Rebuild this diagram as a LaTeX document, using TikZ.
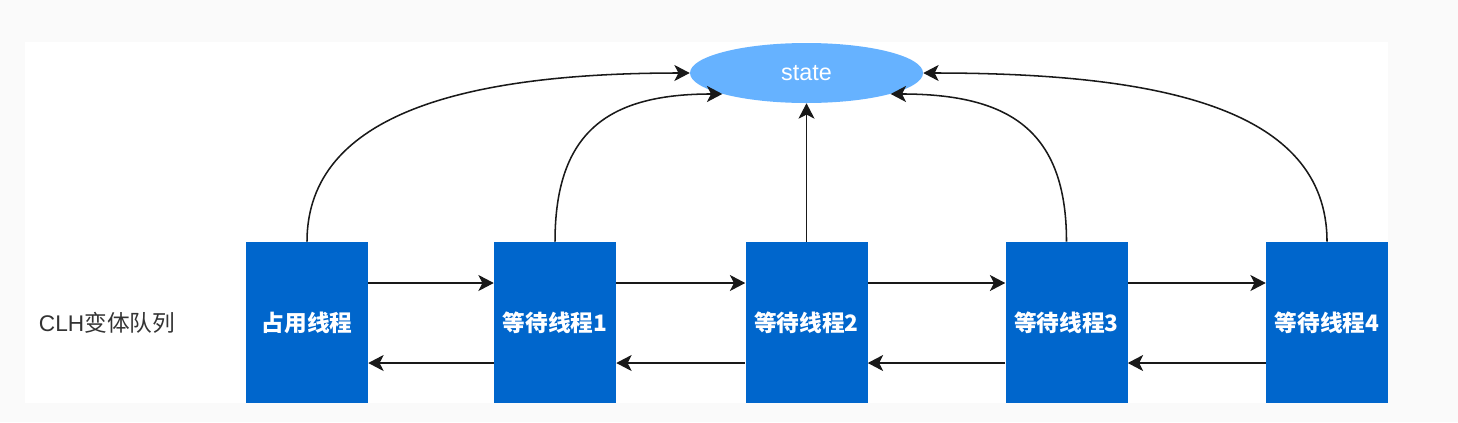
\documentclass[tikz,border=0pt]{standalone}
\usepackage{fontspec}
\setmainfont{Liberation Sans}
\newfontfamily\cjk{Noto Sans CJK SC}
\usetikzlibrary{arrows.meta,shapes.geometric}
\definecolor{bggray}{HTML}{FAFAFA}
\definecolor{boxblue}{HTML}{0066CC}
\definecolor{ellblue}{HTML}{66B2FF}
\definecolor{labgray}{HTML}{333333}
\tikzset{
  thread/.style={rectangle, fill=boxblue, minimum width=91.5pt, minimum height=120.75pt, inner sep=0pt,
    text=white, font=\cjk\bfseries\fontsize{17}{20}\selectfont},
  statenode/.style={ellipse, fill=ellblue, minimum width=174.75pt, minimum height=45pt, inner sep=0pt,
    text=white, font=\fontsize{17.5}{20}\selectfont},
  link/.style={draw=black!90, line width=1.15pt, -{Stealth[length=11.5pt,width=12pt,inset=3pt]}},
}
\begin{document}
\begin{tikzpicture}[x=0.75pt,y=-0.75pt]
\useasboundingbox (0,0) rectangle (1458,422);
\fill[bggray] (0,0) rectangle (1458,422);
\fill[white] (25,42) rectangle (1388,403);

\node[statenode] (st) at (806.5,73) {state};
\node[thread] (b1) at (307,322.5) {占用线程};
\node[thread] (b2) at (555,322.5) {等待线程1};
\node[thread] (b3) at (806.5,322.5) {等待线程2};
\node[thread] (b4) at (1066.5,322.5) {等待线程3};
\node[thread] (b5) at (1327,322.5) {等待线程4};
\node[text=labgray, font=\fontsize{17}{20}\selectfont] (lab) at (107,323) {CLH{\cjk 变体队列}};

% forward links
\draw[link] (b1.east |- 0,283) -- (b2.west |- 0,283);
\draw[link] (b2.east |- 0,283) -- (b3.west |- 0,283);
\draw[link] (b3.east |- 0,283) -- (b4.west |- 0,283);
\draw[link] (b4.east |- 0,283) -- (b5.west |- 0,283);
% backward links
\draw[link] (b2.west |- 0,363) -- (b1.east |- 0,363);
\draw[link] (b3.west |- 0,363) -- (b2.east |- 0,363);
\draw[link] (b4.west |- 0,363) -- (b3.east |- 0,363);
\draw[link] (b5.west |- 0,363) -- (b4.east |- 0,363);

% links to state
\draw[link] (b1.north) .. controls (307,112) and (470,73) .. (st.west);
\draw[link] (b2.north) .. controls (555,130) and (610,94) .. (st.194);
\draw[link] (b3.north) -- (st.south);
\draw[link] (b4.north) .. controls (1066.5,130) and (1009,94) .. (st.346);
\draw[link] (b5.north) .. controls (1327,108) and (1160,73) .. (st.east);
\end{tikzpicture}
\end{document}
